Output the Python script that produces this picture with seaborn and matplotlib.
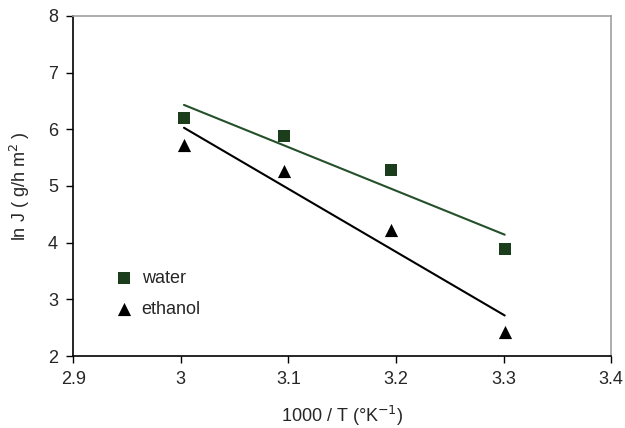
import numpy as np
import pandas as pd
import matplotlib
matplotlib.use("Agg")
import matplotlib.pyplot as plt
import seaborn as sns

# Data
inv_T = [3.003, 3.096, 3.195, 3.301]
water = [6.20, 5.88, 5.28, 3.88]
ethanol = [5.72, 5.27, 4.22, 2.42]

x_ticks = [2.9, 3.0, 3.1, 3.2, 3.3, 3.4]
x_labels = ["2.9", "3", "3.1", "3.2", "3.3", "3.4"]
y_ticks = [2, 3, 4, 5, 6, 7, 8]

df = pd.DataFrame({"x": inv_T, "water": water, "ethanol": ethanol})

sns.set_style("white")
plt.rcParams['font.family'] = ['Liberation Sans', 'DejaVu Sans']

fig = plt.figure(figsize=(6.25, 4.28), dpi=100)
ax = fig.add_axes([0.117, 0.168, 0.861, 0.795])

green = "#1b3d1b"

sns.regplot(x="x", y="water", data=df, ax=ax, ci=None,
            marker="s", color=green,
            scatter_kws={"s": 75, "color": green, "alpha": 1,
                         "linewidths": 0, "zorder": 3},
            line_kws={"color": "#24502a", "lw": 1.5})
sns.regplot(x="x", y="ethanol", data=df, ax=ax, ci=None,
            marker="^", color="black",
            scatter_kws={"s": 90, "color": "black", "alpha": 1,
                         "linewidths": 0, "zorder": 3},
            line_kws={"color": "black", "lw": 1.5})

# legend handles
ax.scatter([], [], marker="s", s=75, color=green, linewidths=0, label="water")
ax.scatter([], [], marker="^", s=90, color="black", linewidths=0, label="ethanol")
ax.legend(loc="lower left", bbox_to_anchor=(0.03, 0.065), frameon=False,
          fontsize=13, handletextpad=0.0, labelspacing=0.75)

ax.set_xlim(2.9, 3.4)
ax.set_ylim(2, 8)
ax.set_xticks(x_ticks)
ax.set_xticklabels(x_labels)
ax.set_yticks(y_ticks)
ax.tick_params(axis="both", labelsize=13, direction="out", length=5,
               width=1, color="black", left=True, bottom=True, pad=6)

ax.set_xlabel("1000 / T (°K$^{-1}$)", fontsize=13, labelpad=11)
ax.set_ylabel("ln J ( g/h m$^{2}$ )", fontsize=13, labelpad=11)

for s in ["left", "bottom"]:
    ax.spines[s].set_color("black")
    ax.spines[s].set_linewidth(1.2)
for s in ["top", "right"]:
    ax.spines[s].set_color("#a0a0a0")
    ax.spines[s].set_linewidth(1.2)

fig.savefig("out.png", dpi=100)
